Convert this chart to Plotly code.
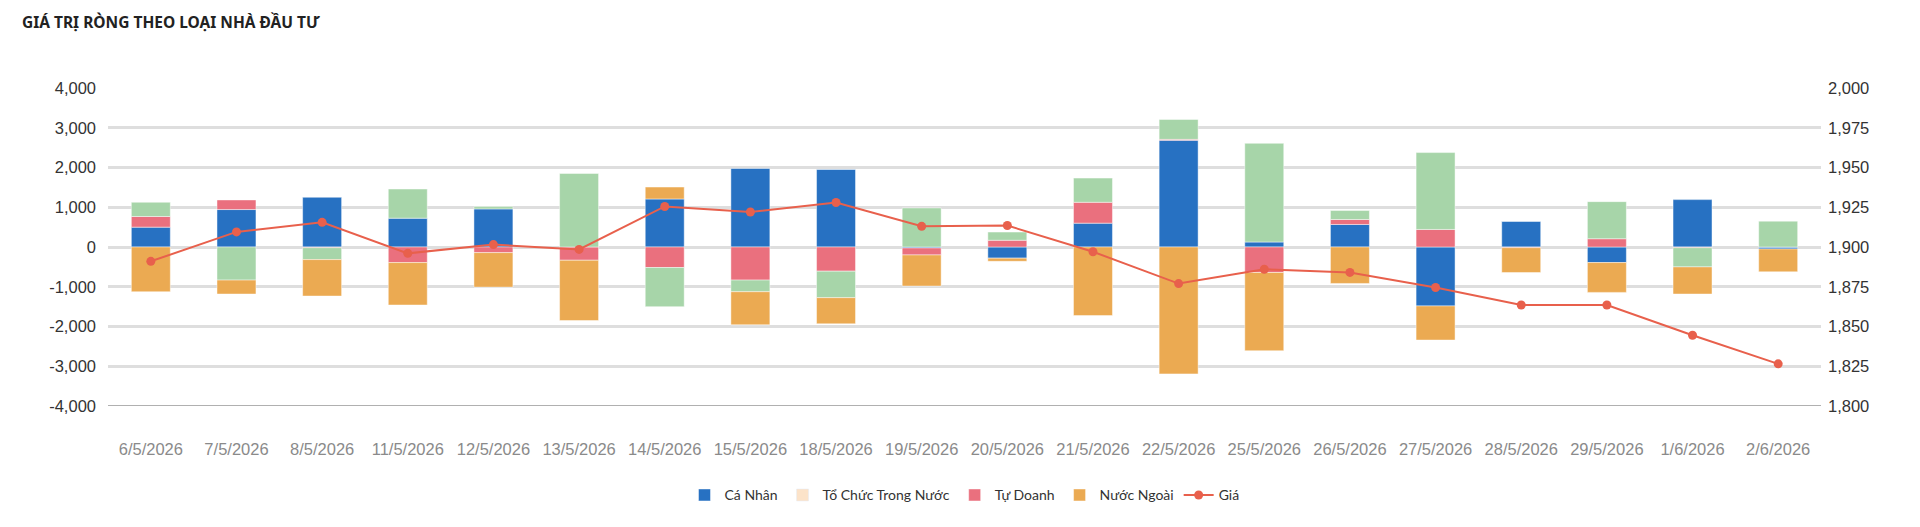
import plotly.graph_objects as go

dates = ["6/5/2026", "7/5/2026", "8/5/2026", "11/5/2026", "12/5/2026", "13/5/2026",
         "14/5/2026", "15/5/2026", "18/5/2026", "19/5/2026", "20/5/2026", "21/5/2026",
         "22/5/2026", "25/5/2026", "26/5/2026", "27/5/2026", "28/5/2026", "29/5/2026",
         "1/6/2026", "2/6/2026"]

ca_nhan = [500, 942, 1250, 725, 958, 0, 1208, 1975, 1950, -25, -280, 600,
           2683, 125, 567, -1483, 650, -392, 1192, -50]
tu_doanh = [267, 242, -17, -392, -142, -333, -517, -833, -608, -175, 170, 525,
            25, -642, 125, 442, -17, 208, -17, 0]
to_chuc = [358, -833, -300, 733, 58, 1850, -983, -292, -667, 983, 205, 608,
           500, 2483, 225, 1933, 0, 933, -483, 650]
nuoc_ngoai = [-1125, -350, -917, -1067, -867, -1517, 300, -833, -658, -783, -80, -1725,
              -3192, -1967, -917, -858, -625, -750, -683, -575]
gia = [1891, 1909.5, 1915.5, 1896, 1901.5, 1898.5, 1925.5, 1922, 1928, 1913,
       1913.5, 1897, 1877, 1886, 1884, 1874.5, 1863.5, 1863.5, 1844.5, 1826.5]

left_vals = [-4000, -3000, -2000, -1000, 0, 1000, 2000, 3000, 4000]
left_text = ["-4,000", "-3,000", "-2,000", "-1,000", "0", "1,000", "2,000", "3,000", "4,000"]
right_vals = [1800, 1825, 1850, 1875, 1900, 1925, 1950, 1975, 2000]
right_text = ["1,800", "1,825", "1,850", "1,875", "1,900", "1,925", "1,950", "1,975", "2,000"]

C_BLUE = "#2771c2"
C_PINK = "#ea707e"
C_GREEN = "#a7d5a9"
C_ORANGE = "#ebaa52"
C_PEACH = "#fce3c9"
C_LINE = "#e8604c"

LEG_FONT = dict(family="Lato, Noto Sans, sans-serif", size=14, color="#333333")
TICK_FONT = "Liberation Sans, Arial, sans-serif"

bar_line = dict(width=1, color="rgba(255,255,255,0.45)")

fig = go.Figure()
fig.add_trace(go.Bar(x=dates, y=ca_nhan, name="Cá Nhân", marker=dict(color=C_BLUE, line=bar_line),
                     legendrank=1))
fig.add_trace(go.Bar(x=dates, y=tu_doanh, name="Tự Doanh", marker=dict(color=C_PINK, line=bar_line),
                     legendrank=3))
fig.add_trace(go.Bar(x=dates, y=to_chuc, name="Tổ Chức Trong Nước", marker=dict(color=C_GREEN, line=bar_line),
                     showlegend=False))
fig.add_trace(go.Bar(x=dates, y=nuoc_ngoai, name="Nước Ngoài", marker=dict(color=C_ORANGE, line=bar_line),
                     legendrank=4))
# legend-only entry with the legend swatch colour
fig.add_trace(go.Bar(x=[dates[0]], y=[None], name="Tổ Chức Trong Nước", marker=dict(color=C_PEACH),
                     legendrank=2, hoverinfo="skip"))
fig.add_trace(go.Scatter(x=dates, y=gia, name="Giá", yaxis="y2", mode="lines+markers",
                         line=dict(color=C_LINE, width=2), marker=dict(color=C_LINE, size=9),
                         legendrank=5))

fig.update_layout(
    width=1920, height=527,
    autosize=False,
    paper_bgcolor="white", plot_bgcolor="white",
    barmode="relative", bargap=0.545,
    margin=dict(l=108, r=99, t=88, b=120.5),
    title=dict(text="<b>GIÁ TRỊ RÒNG THEO LOẠI NHÀ ĐẦU TƯ</b>", x=22/1920, xanchor="left",
               y=1 - 23/527, yanchor="middle",
               font=dict(family="Noto Sans, Open Sans, sans-serif", size=15.5, color="#222222")),
    xaxis=dict(type="category", range=[-0.5, len(dates) - 0.5], showgrid=False, zeroline=False,
               showline=False, ticks="",
               tickfont=dict(family=TICK_FONT, size=16.5, color="#8a8a8a"), ticklabelstandoff=31),
    yaxis=dict(range=[-4000, 4000], tickvals=left_vals, ticktext=left_text, showgrid=True,
               gridcolor="#dedede", gridwidth=3, zeroline=False, showline=False, ticks="",
               tickfont=dict(family=TICK_FONT, size=16.5, color="#333333"), ticklabelstandoff=11),
    yaxis2=dict(range=[1800, 2000], tickvals=right_vals, ticktext=right_text, overlaying="y",
                side="right", showgrid=False, zeroline=False, showline=False, ticks="",
                tickfont=dict(family=TICK_FONT, size=16.5, color="#333333"), ticklabelstandoff=6),
    legend=dict(orientation="h", x=0.5, xanchor="center", y=-0.281, yanchor="middle",
                font=LEG_FONT, traceorder="normal", itemwidth=30),
    showlegend=True,
)
# darker baseline at bottom of the plot
fig.add_shape(type="line", xref="paper", yref="y", x0=0, x1=1, y0=-4000, y1=-4000,
              line=dict(color="#b0b0b0", width=2), layer="below")

fig.write_html("out.html")
